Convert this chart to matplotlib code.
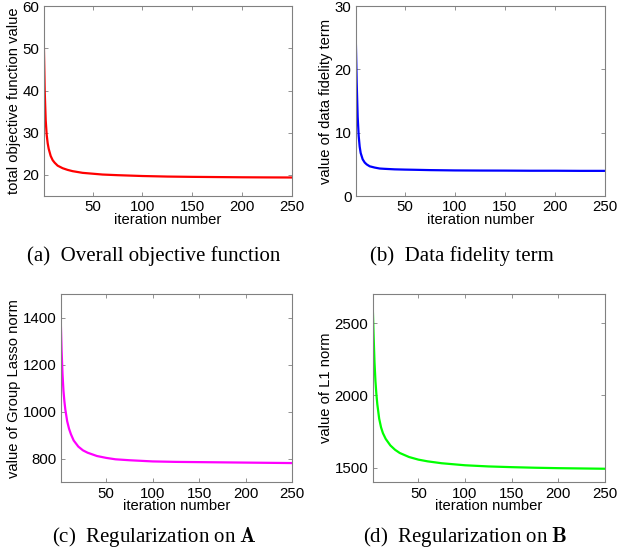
import matplotlib
matplotlib.use("Agg")
import matplotlib.pyplot as plt

plt.rcParams["font.family"] = ["Liberation Sans", "DejaVu Sans"]
plt.rcParams["mathtext.fontset"] = "cm"

iters = [1, 2, 3, 4, 5, 6, 8, 10, 12, 15, 20, 25, 30, 40, 50, 60, 75,
         100, 125, 150, 175, 200, 225, 250]

# (a) total objective
total_obj = [52.8, 40.0, 33.0, 29.5, 27.5, 26.2, 24.5, 23.5, 22.9, 22.2, 21.6,
             21.2, 20.9, 20.5, 20.3, 20.1, 19.95, 19.75, 19.62, 19.55, 19.5,
             19.45, 19.42, 19.4]
# (b) data fidelity
data_fid = [25.7, 18.0, 12.5, 9.5, 7.8, 6.8, 5.8, 5.3, 5.0, 4.7, 4.5, 4.35, 4.3,
            4.22, 4.18, 4.15, 4.1, 4.05, 4.03, 4.02, 4.0, 4.0, 3.98, 3.98]
# (c) group lasso norm
group_lasso = [1400, 1260, 1160, 1090, 1045, 1010, 960, 928, 905, 878, 852, 836,
               826, 812, 804, 798, 794, 789, 787, 786, 785, 784, 783, 782]
# (d) L1 norm
l1_norm = [2640, 2420, 2230, 2100, 2010, 1940, 1840, 1780, 1740, 1700, 1655,
           1625, 1603, 1575, 1557, 1545, 1532, 1518, 1510, 1505, 1501, 1498,
           1496, 1494]

x_ticks = [50, 100, 150, 200, 250]

panels = [
    # rect, y, color, ylim, yticks, ylabel, caption, caption xy
    ([0.0706, 0.648, 0.401, 0.341], total_obj, "red", (15, 60),
     [20, 30, 40, 50, 60], "total objective function value",
     "(a)  Overall objective function", (154, 256)),
    ([0.5746, 0.648, 0.4027, 0.341], data_fid, "blue", (0, 30),
     [0, 10, 20, 30], "value of data fidelity term",
     "(b)  Data fidelity term", (462, 256)),
    ([0.098, 0.134, 0.3737, 0.338], group_lasso, "magenta", (700, 1500),
     [800, 1000, 1200, 1400], "value of Group Lasso norm",
     r"(c)  Regularization on $\mathbf{A}$", (154, 537)),
    ([0.602, 0.134, 0.3755, 0.338], l1_norm, "#00ff00", (1400, 2700),
     [1500, 2000, 2500], "value of L1 norm",
     r"(d)  Regularization on $\mathbf{B}$", (465, 537)),
]

W, H = 619, 557
fig = plt.figure(figsize=(W / 100, H / 100), dpi=100)

for rect, vals, col, ylim, yticks, ylabel, caption, cxy in panels:
    ax = fig.add_axes(rect)
    ax.plot(iters, vals, color=col, linewidth=1.6)
    ax.set_xlim(1, 250)
    ax.set_ylim(*ylim)
    ax.set_xticks(x_ticks)
    ax.set_yticks(yticks)
    ax.tick_params(direction="in", length=3, width=0.6, color="#808080",
                   top=True, right=True, labelsize=10.8, pad=3)
    for s in ax.spines.values():
        s.set_color("#808080")
        s.set_linewidth(0.8)
    ax.set_xlabel("iteration number", fontsize=10.6, labelpad=-1)
    ax.set_ylabel(ylabel, fontsize=10.6, labelpad=1)
    fig.text(cxy[0] / W, 1 - cxy[1] / H, caption, ha="center", va="center",
             fontsize=15, family="Liberation Serif")

fig.savefig("out.png", dpi=100)
